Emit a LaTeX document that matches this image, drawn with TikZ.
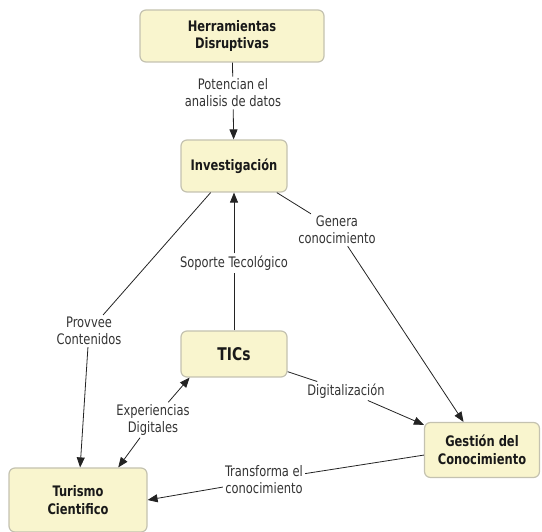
\documentclass[tikz,border=0pt]{standalone}
\usepackage{fontspec}
\setmainfont{DejaVu Sans Condensed}[FakeStretch=0.88]
\usetikzlibrary{arrows.meta}
\definecolor{boxfill}{RGB}{249,245,206}
\definecolor{boxdraw}{RGB}{196,194,176}
\definecolor{linec}{RGB}{35,35,35}
\begin{document}
\begin{tikzpicture}[x=1pt,y=-1pt,
  concept/.style={rectangle, rounded corners=6pt, fill=boxfill, draw=boxdraw, line width=1.2pt,
    font=\fontsize{14.5}{17.5}\selectfont\bfseries, text=black!90, align=center, inner sep=0pt},
  lbl/.style={font=\fontsize{14.5}{17}\selectfont, text=black!80, align=center, inner sep=2pt},
  link/.style={draw=linec, line width=0.8pt},
  arr/.style={link, -{Triangle[length=10pt,width=8pt]}}]
\useasboundingbox (0,0) rectangle (542,532);
% concepts
\node[concept, minimum width=184pt, minimum height=52pt] (herr) at (232,36) {Herramientas\\Disruptivas};
\node[concept, minimum width=106pt, minimum height=52pt] (inv) at (234,166) {Investigación};
\node[concept, minimum width=106pt, minimum height=46pt] (tics) at (234,354) {\fontsize{17.5}{20}\selectfont TICs};
\node[concept, minimum width=115pt, minimum height=55pt] (gest) at (482,450) {Gestión del\\Conocimiento};
\node[concept, minimum width=138pt, minimum height=64pt] (tur) at (78,500) {Turismo\\Cientifico};
% labels
\node[lbl] (lpot) at (233,93) {Potencian el\\analisis de datos};
\node[lbl] (lgen) at (337,230) {Genera\\conocimiento};
\node[lbl] (lsop) at (234,263) {Soporte Tecológico};
\node[lbl] (lpro) at (89,331) {Provvee\\Contenidos};
\node[lbl] (lexp) at (153,420) {Experiencias\\Digitales};
\node[lbl] (ldig) at (346,391) {Digitalización};
\node[lbl] (ltra) at (264,480) {Transforma el\\conocimiento};
% links
\draw[link] (herr) -- (lpot);
\draw[arr] (lpot) -- (inv);
\draw[link] (inv) -- (lgen);
\draw[arr] (lgen) -- (gest);
\draw[link] (inv) -- (lpro);
\draw[arr] (lpro) -- (tur);
\draw[link] (tics) -- (lsop);
\draw[arr] (lsop) -- (inv);
\draw[link] (tics) -- (ldig);
\draw[arr] (ldig) -- (gest);
\draw[arr] (lexp) -- (tics.208);
\draw[arr] (lexp) -- (tur.39);
\draw[link] (gest.185) -- (ltra);
\draw[arr] (ltra) -- (tur.east);
\end{tikzpicture}
\end{document}
